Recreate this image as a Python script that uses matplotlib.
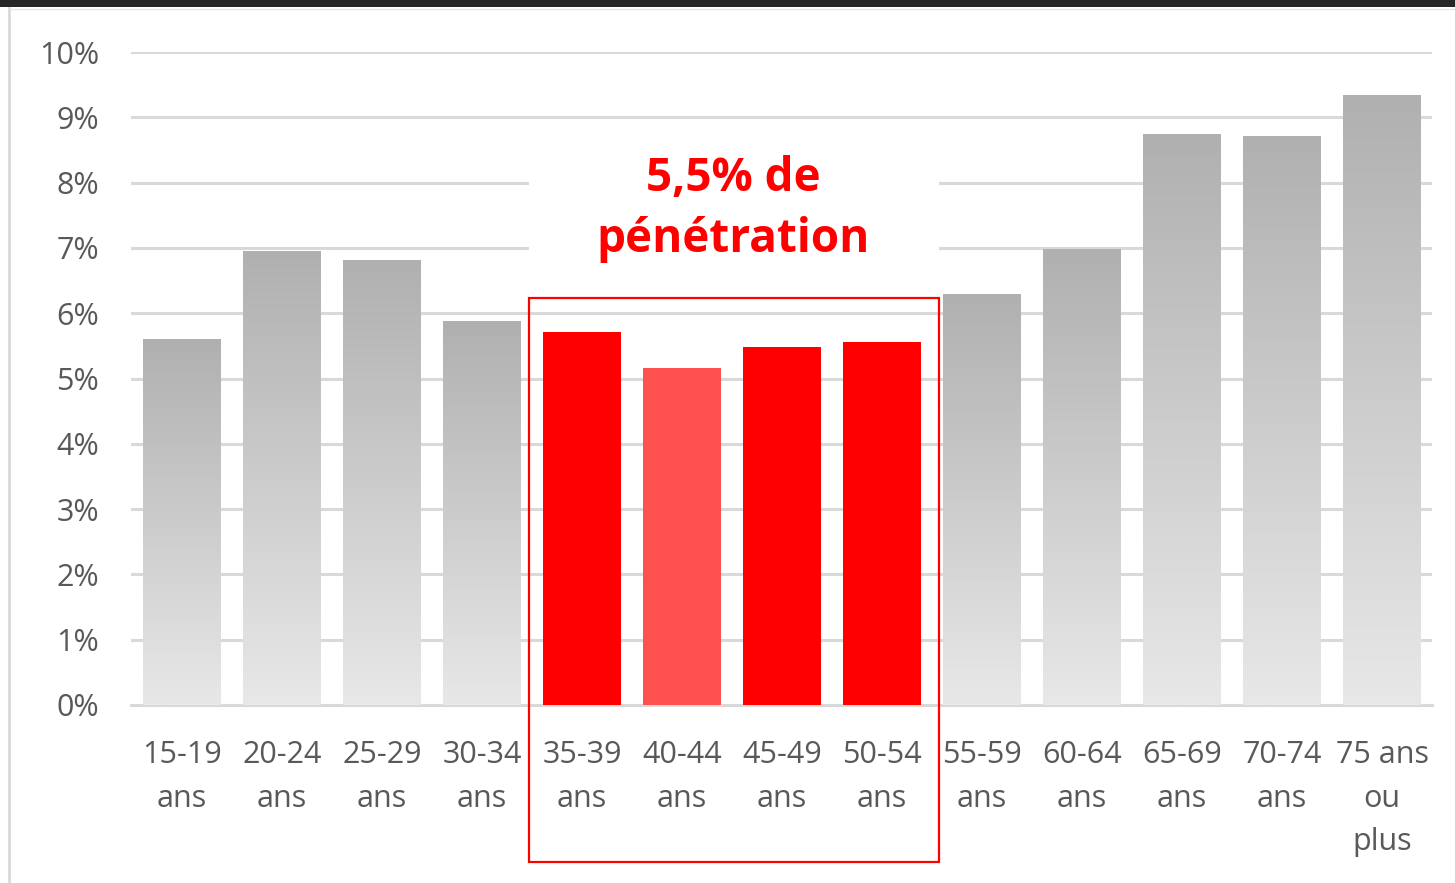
import numpy as np
import matplotlib
matplotlib.use("Agg")
import matplotlib.pyplot as plt
from matplotlib.patches import Rectangle
from matplotlib.lines import Line2D

# data
categories = ["15-19\nans", "20-24\nans", "25-29\nans", "30-34\nans", "35-39\nans",
              "40-44\nans", "45-49\nans", "50-54\nans", "55-59\nans", "60-64\nans",
              "65-69\nans", "70-74\nans", "75 ans\nou\nplus"]
values = [5.59, 6.95, 6.80, 5.87, 5.71, 5.16, 5.48, 5.56, 6.28, 6.98, 8.74, 8.71, 9.34]
highlight = [False, False, False, False, True, True, True, True, False, False, False, False, False]
y_ticks = [0, 1, 2, 3, 4, 5, 6, 7, 8, 9, 10]
y_labels = [f"{t}%" for t in y_ticks]
note = "5,5% de\npénétration"

plt.rcParams['font.family'] = ['Open Sans', 'DejaVu Sans']

fig = plt.figure(figsize=(14.55, 8.83), dpi=100)
ax = fig.add_axes([131/1455, 1-705/883, (1432-131)/1455, (705-52)/883])

x = np.arange(len(categories))
width = 0.78

# grey gradient, dark at top, light at bottom
grad = np.linspace(0, 1, 256).reshape(-1, 1)
cmap = matplotlib.colors.LinearSegmentedColormap.from_list("g", ["#e8e8e8", "#b0b0b0"])

for i, (v, h) in enumerate(zip(values, highlight)):
    if h:
        col = "#ff5050" if categories[i].startswith("40-44") else "#ff0000"
        ax.bar(x[i], v, width=width, color=col, zorder=3)
    else:
        ax.imshow(grad, extent=[x[i]-width/2, x[i]+width/2, 0, v], origin="lower",
                  cmap=cmap, aspect="auto", zorder=3)

ax.set_xlim(-0.51, len(categories)-0.5)
ax.set_ylim(0, 10)

ax.set_yticks(y_ticks)
ax.set_yticklabels(y_labels)
ax.set_xticks(x)
ax.set_xticklabels(categories, linespacing=1.6)
ax.tick_params(axis="y", length=0, pad=23, labelsize=22, labelcolor="#595959")
ax.tick_params(axis="x", length=0, pad=25, labelsize=22, labelcolor="#595959")

ax.grid(axis="y", color="#d9d9d9", linewidth=2.2)
ax.set_axisbelow(True)
for s in ["top", "right", "left"]:
    ax.spines[s].set_visible(False)
ax.spines["bottom"].set_color("#d9d9d9")
ax.spines["bottom"].set_linewidth(2.2)

# white block behind the note, cutting the gridlines
ax.add_patch(Rectangle((3.47, 6.7), 4.1, 1.75, facecolor="white", edgecolor="none", zorder=1))
ax.text(5.51, 7.6, note, ha="center", va="center", color="#ff0000", fontsize=33,
        fontweight="bold", linespacing=1.4, zorder=4)

# red frame around highlighted bars
ax.add_patch(Rectangle((3.47, -2.4), 4.1, 8.63, facecolor="none", edgecolor="#ff0000",
                       linewidth=1.6, clip_on=False, zorder=5))

# page decorations: dark band on top, light border on left
fig.patches.append(Rectangle((0, 1-7/883), 1, 7/883, transform=fig.transFigure,
                             facecolor="#262626", edgecolor="none"))
fig.lines.append(Line2D([9/1455, 9/1455], [0, 1-8/883], transform=fig.transFigure,
                        color="#d9d9d9", linewidth=2))
fig.lines.append(Line2D([9/1455, 1], [1-8.5/883, 1-8.5/883], transform=fig.transFigure,
                        color="#e6e6e6", linewidth=1))

fig.savefig("out.png", dpi=100)
